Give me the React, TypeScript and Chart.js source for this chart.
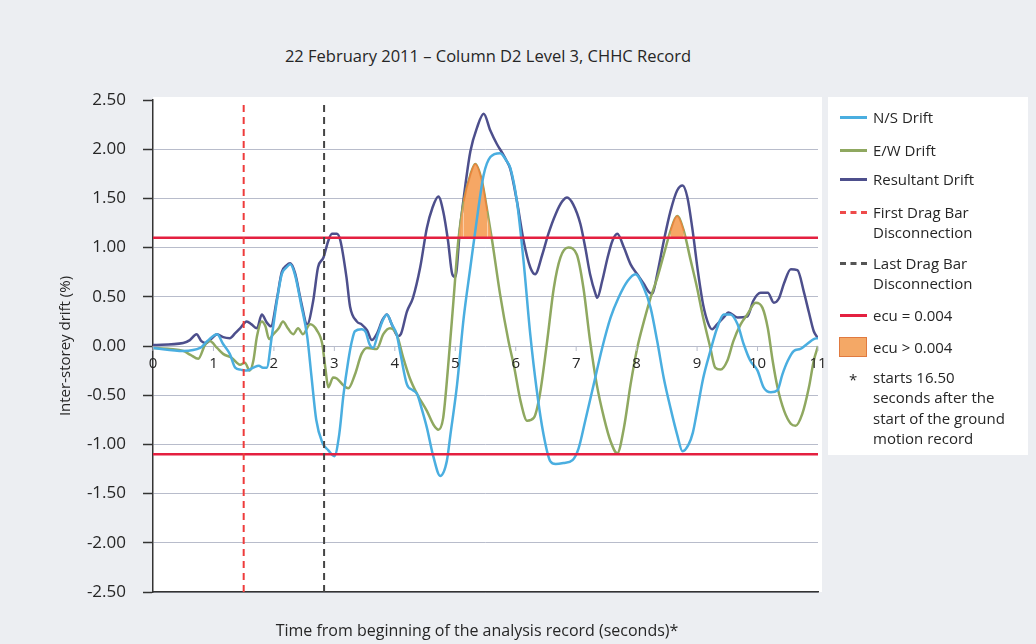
import React, { useEffect, useRef } from 'react';
import { Chart, registerables } from 'chart.js';

Chart.register(...registerables);

// ---- data (time s, drift %) ----
const nsDrift: [number, number][] = [
  [0, -0.02], [0.5, -0.05], [0.78, -0.02], [0.9, 0.05], [1.06, 0.12], [1.16, 0.02], [1.27, -0.08], [1.36, -0.22],
  [1.45, -0.24], [1.55, -0.25], [1.66, -0.22], [1.75, -0.2], [1.82, -0.22], [1.88, -0.22], [1.97, 0.12], [2.05, 0.46],
  [2.13, 0.73], [2.21, 0.8], [2.27, 0.83], [2.35, 0.72], [2.45, 0.42], [2.55, 0.1], [2.62, -0.3], [2.7, -0.75],
  [2.8, -0.98], [2.9, -1.06], [3.0, -1.12], [3.08, -0.9], [3.15, -0.5], [3.23, -0.15], [3.29, 0.05], [3.34, 0.15],
  [3.45, 0.17], [3.52, 0.14], [3.58, 0.02], [3.64, -0.02], [3.72, 0.12], [3.8, 0.26], [3.87, 0.32], [3.95, 0.22],
  [4.03, 0.12], [4.1, -0.1], [4.2, -0.39], [4.3, -0.45], [4.37, -0.49], [4.45, -0.65], [4.53, -0.83], [4.64, -1.13],
  [4.75, -1.32], [4.86, -1.17], [4.92, -0.9], [5.03, -0.39], [5.14, 0.29], [5.25, 0.8], [5.36, 1.3], [5.47, 1.74],
  [5.58, 1.92], [5.74, 1.96], [5.85, 1.88], [5.91, 1.81], [6.02, 1.47], [6.13, 0.86], [6.24, 0.12], [6.35, -0.46],
  [6.46, -0.9], [6.57, -1.17], [6.66, -1.2], [6.79, -1.19], [6.94, -1.16], [7.04, -1.04], [7.15, -0.76], [7.29, -0.39],
  [7.43, -0.02], [7.57, 0.29], [7.7, 0.49], [7.85, 0.66], [7.98, 0.73], [8.12, 0.59], [8.23, 0.39], [8.34, 0.05],
  [8.45, -0.33], [8.56, -0.63], [8.67, -0.9], [8.76, -1.07], [8.86, -1.0], [8.93, -0.88], [9.0, -0.66], [9.1, -0.33],
  [9.22, -0.05], [9.33, 0.18], [9.44, 0.32], [9.55, 0.32], [9.67, 0.22], [9.77, 0.02], [9.88, -0.15], [10.0, -0.25],
  [10.1, -0.42], [10.22, -0.47], [10.33, -0.45], [10.41, -0.29], [10.5, -0.15], [10.6, -0.05], [10.71, -0.03],
  [10.82, 0.02], [10.93, 0.07], [11.0, 0.08],
];

const ewDrift: [number, number][] = [
  [0, -0.02], [0.28, -0.03], [0.5, -0.05], [0.62, -0.09], [0.75, -0.13], [0.86, 0.01], [0.94, 0.05], [1.06, -0.02],
  [1.16, -0.08], [1.3, -0.12], [1.44, -0.19], [1.52, -0.17], [1.6, -0.25], [1.66, -0.15], [1.72, 0.1], [1.8, 0.25],
  [1.86, 0.2], [1.92, 0.07], [1.99, 0.12], [2.08, 0.18], [2.15, 0.25], [2.23, 0.18], [2.32, 0.12], [2.4, 0.18],
  [2.48, 0.12], [2.6, 0.22], [2.71, 0.16], [2.8, 0.02], [2.85, -0.22], [2.9, -0.42], [2.98, -0.32], [3.04, -0.33],
  [3.15, -0.4], [3.23, -0.43], [3.34, -0.29], [3.45, -0.08], [3.54, -0.02], [3.7, -0.03], [3.81, 0.12], [3.92, 0.18],
  [4.03, 0.12], [4.14, -0.12], [4.25, -0.33], [4.37, -0.49], [4.53, -0.66], [4.64, -0.8], [4.72, -0.85], [4.8, -0.73],
  [4.88, -0.22], [4.97, 0.46], [5.05, 1.07], [5.14, 1.47], [5.25, 1.74], [5.33, 1.85], [5.44, 1.68], [5.53, 1.37],
  [5.61, 1.07], [5.74, 0.53], [5.88, 0.05], [5.97, -0.2], [6.08, -0.56], [6.19, -0.76], [6.3, -0.73], [6.4, -0.49],
  [6.52, 0.05], [6.63, 0.59], [6.74, 0.9], [6.87, 1.0], [7.01, 0.93], [7.12, 0.59], [7.23, 0.05], [7.34, -0.39],
  [7.46, -0.73], [7.57, -0.97], [7.68, -1.09], [7.79, -0.83], [7.9, -0.39], [8.01, -0.02], [8.12, 0.25], [8.23, 0.49],
  [8.34, 0.69], [8.45, 0.93], [8.56, 1.17], [8.67, 1.32], [8.78, 1.17], [8.89, 0.88], [9.0, 0.59], [9.1, 0.29],
  [9.22, -0.02], [9.3, -0.22], [9.39, -0.24], [9.5, -0.15], [9.6, 0.05], [9.72, 0.22], [9.83, 0.32], [9.97, 0.44],
  [10.08, 0.39], [10.17, 0.18], [10.25, -0.15], [10.33, -0.42], [10.44, -0.66], [10.55, -0.79], [10.63, -0.81],
  [10.74, -0.69], [10.85, -0.42], [10.93, -0.15], [11.0, 0.0],
];

const resultantDrift: [number, number][] = [
  [0, 0.01], [0.5, 0.03], [0.61, 0.06], [0.72, 0.12], [0.8, 0.05], [0.88, 0.03], [0.96, 0.07], [1.06, 0.12],
  [1.16, 0.09], [1.27, 0.08], [1.36, 0.13], [1.44, 0.18], [1.55, 0.25], [1.63, 0.22], [1.72, 0.18], [1.8, 0.32],
  [1.88, 0.24], [1.95, 0.2], [2.05, 0.48], [2.13, 0.75], [2.21, 0.82], [2.27, 0.84], [2.35, 0.74], [2.45, 0.45],
  [2.55, 0.22], [2.65, 0.46], [2.73, 0.8], [2.82, 0.9], [2.9, 1.07], [2.96, 1.14], [3.04, 1.14], [3.1, 1.07],
  [3.2, 0.7], [3.26, 0.4], [3.37, 0.25], [3.45, 0.22], [3.54, 0.16], [3.62, 0.06], [3.7, 0.12], [3.8, 0.27],
  [3.87, 0.32], [3.95, 0.22], [4.05, 0.1], [4.1, 0.12], [4.2, 0.35], [4.3, 0.49], [4.42, 0.8], [4.53, 1.2],
  [4.62, 1.4], [4.72, 1.52], [4.8, 1.37], [4.88, 1.07], [4.95, 0.73], [5.0, 0.7], [5.08, 1.2], [5.17, 1.65],
  [5.25, 1.98], [5.36, 2.22], [5.47, 2.36], [5.58, 2.19], [5.69, 2.05], [5.78, 1.96], [5.85, 1.88], [5.91, 1.8],
  [6.02, 1.47], [6.13, 1.07], [6.24, 0.8], [6.32, 0.73], [6.44, 0.93], [6.54, 1.14], [6.66, 1.34], [6.77, 1.47],
  [6.85, 1.51], [6.95, 1.44], [7.07, 1.24], [7.15, 1.0], [7.23, 0.73], [7.32, 0.53], [7.35, 0.49], [7.43, 0.66],
  [7.52, 0.9], [7.6, 1.07], [7.68, 1.14], [7.79, 1.0], [7.9, 0.83], [8.01, 0.73], [8.12, 0.63], [8.2, 0.55],
  [8.26, 0.53], [8.34, 0.73], [8.45, 1.07], [8.56, 1.37], [8.67, 1.58], [8.76, 1.63], [8.84, 1.51], [8.92, 1.2],
  [9.02, 0.73], [9.1, 0.42], [9.19, 0.22], [9.25, 0.17], [9.33, 0.22], [9.44, 0.29], [9.52, 0.34], [9.67, 0.29],
  [9.83, 0.3], [9.93, 0.46], [10.05, 0.54], [10.17, 0.54], [10.27, 0.44], [10.35, 0.48], [10.44, 0.64], [10.55, 0.78],
  [10.66, 0.77], [10.77, 0.54], [10.85, 0.34], [10.93, 0.15], [11.0, 0.08],
];

const ecuLimit = 1.1;
const firstDragBarTime = 1.5;
const lastDragBarTime = 2.83;
const timeRange: [number, number] = [0, 11];
const driftRange: [number, number] = [-2.5, 2.5];
const driftStep = 0.5;
const xTickLabels = ['0', '1', '2', '3', '4', '5', '6', '7', '8', '9', '10', '11'];

const legendItems = [
  { label: ['N/S Drift'], kind: 'line', color: '#4aaee0' },
  { label: ['E/W Drift'], kind: 'line', color: '#8fa860' },
  { label: ['Resultant Drift'], kind: 'line', color: '#4d4f8c' },
  { label: ['First Drag Bar', 'Disconnection'], kind: 'dash', color: '#ee4a4a' },
  { label: ['Last Drag Bar', 'Disconnection'], kind: 'dash', color: '#555555' },
  { label: ['ecu = 0.004'], kind: 'line', color: '#e42040' },
  { label: ['ecu > 0.004'], kind: 'box', color: '#f4a866' },
];
const noteLines = ['starts 16.50', 'seconds after the', 'start of the ground', 'motion record'];

const FONT = '"Open Sans", "DejaVu Sans", sans-serif';
const TEXT = '#262626';

const toXY = (a: [number, number][]) => a.map(([x, y]) => ({ x, y }));

export default function App() {
  const ref = useRef<HTMLCanvasElement>(null);

  useEffect(() => {
    if (!ref.current) return;
    Chart.defaults.font.family = FONT;

    const bgPlugin = {
      id: 'plotBg',
      beforeDraw(chart: any) {
        const { ctx, chartArea } = chart;
        ctx.save();
        ctx.fillStyle = '#ffffff';
        ctx.fillRect(chartArea.left, chartArea.top - 3, chartArea.right - chartArea.left + 4, chartArea.bottom - chartArea.top + 3);
        ctx.restore();
      },
    };

    const zeroLabels = {
      id: 'zeroLabels',
      afterDatasetsDraw(chart: any) {
        const { ctx } = chart;
        const xs = chart.scales.x;
        const ys = chart.scales.y;
        const y0 = ys.getPixelForValue(0);
        ctx.save();
        ctx.font = `15px ${FONT}`;
        ctx.fillStyle = TEXT;
        ctx.textAlign = 'center';
        ctx.textBaseline = 'middle';
        xTickLabels.forEach((lab, i) => {
          const px = xs.getPixelForValue(i);
          ctx.strokeStyle = '#b8bccb';
          ctx.lineWidth = 1;
          ctx.beginPath();
          ctx.moveTo(px, y0);
          ctx.lineTo(px, y0 + 5);
          ctx.stroke();
          ctx.fillText(lab, px, y0 + 18);
        });
        ctx.restore();
      },
    };

    const chart = new Chart(ref.current, {
      type: 'line',
      data: {
        datasets: [
          {
            label: 'First Drag Bar Disconnection',
            data: toXY([[firstDragBarTime, driftRange[0]], [firstDragBarTime, driftRange[1]]]),
            borderColor: '#ee3b3b', borderWidth: 2, borderDash: [7, 5], pointRadius: 0, order: 0,
          },
          {
            label: 'Last Drag Bar Disconnection',
            data: toXY([[lastDragBarTime, driftRange[0]], [lastDragBarTime, driftRange[1]]]),
            borderColor: '#444444', borderWidth: 2, borderDash: [7, 5], pointRadius: 0, order: 0,
          },
          {
            label: 'ecu = 0.004',
            data: toXY([[timeRange[0], ecuLimit], [timeRange[1], ecuLimit]]),
            borderColor: '#e42040', borderWidth: 2.5, pointRadius: 0, order: 1,
          },
          {
            label: 'ecu = 0.004 (neg)',
            data: toXY([[timeRange[0], -ecuLimit], [timeRange[1], -ecuLimit]]),
            borderColor: '#e42040', borderWidth: 2.5, pointRadius: 0, order: 1,
          },
          {
            label: 'N/S Drift',
            data: toXY(nsDrift),
            borderColor: '#4aaee0', borderWidth: 2.5, pointRadius: 0, cubicInterpolationMode: 'monotone', order: 2,
          },
          {
            label: 'ecu > 0.004',
            data: toXY(ewDrift),
            borderColor: 'rgba(0,0,0,0)',
            borderWidth: 1.5,
            segment: {
              borderColor: (c: any) => (c.p0.parsed.y > ecuLimit && c.p1.parsed.y > ecuLimit ? '#e8843c' : 'rgba(0,0,0,0)'),
            },
            pointRadius: 0,
            cubicInterpolationMode: 'monotone',
            fill: { target: { value: ecuLimit }, above: 'rgba(245,160,88,0.92)', below: 'rgba(0,0,0,0)' },
            order: 3,
          },
          {
            label: 'E/W Drift',
            data: toXY(ewDrift),
            borderColor: '#8fa860', borderWidth: 2.5, pointRadius: 0, cubicInterpolationMode: 'monotone', order: 4,
          },
          {
            label: 'Resultant Drift',
            data: toXY(resultantDrift),
            borderColor: '#4d4f8c', borderWidth: 2.5, pointRadius: 0, cubicInterpolationMode: 'monotone', order: 5,
          },
        ] as any,
      },
      options: {
        responsive: false,
        animation: false,
        events: [],
        layout: { padding: { left: 0, top: 100, right: 218, bottom: 52 } },
        plugins: { legend: { display: false }, tooltip: { enabled: false }, title: { display: false } },
        scales: {
          x: {
            type: 'linear',
            min: timeRange[0],
            max: timeRange[1],
            grid: { display: false },
            ticks: { display: false },
            border: { display: true, color: '#333333', width: 1.5 },
            afterFit: (s: any) => { s.height = 0; },
          },
          y: {
            type: 'linear',
            min: driftRange[0],
            max: driftRange[1],
            ticks: {
              stepSize: driftStep,
              callback: (v: any) => Number(v).toFixed(2),
              font: { size: 17 },
              color: TEXT,
              padding: 17,
            },
            grid: {
              color: (c: any) => (c.tick && c.tick.value === driftRange[1] ? 'rgba(0,0,0,0)' : '#b8bccb'),
              lineWidth: 1,
              tickLength: 10,
              tickColor: '#333333',
              tickWidth: 1.5,
            },
            border: { display: true, color: '#333333', width: 1.5 },
            title: {
              display: true,
              text: 'Inter-storey drift (%)',
              font: { size: 15 },
              color: TEXT,
              padding: { top: 57, bottom: 0 },
            },
            afterFit: (s: any) => { s.width = 153; },
          },
        },
      },
      plugins: [bgPlugin, zeroLabels],
    } as any);

    return () => chart.destroy();
  }, []);

  const legendTops = [117, 150, 179, 212, 263, 315, 347];

  return (
    <div style={{ position: 'fixed', left: 0, top: 0, width: 1036, height: 644, background: '#eceef2', overflow: 'hidden', fontFamily: FONT, color: TEXT }}>
      <div style={{ position: 'absolute', left: 488, top: 44, transform: 'translateX(-50%)', whiteSpace: 'nowrap', fontSize: 16.5 }}>
        22 February 2011 – Column D2 Level 3, CHHC Record
      </div>
      <div style={{ position: 'absolute', left: 828, top: 97, width: 200, height: 358, background: '#ffffff' }} />
      <canvas ref={ref} width={1036} height={644} style={{ position: 'absolute', left: 0, top: 0, width: 1036, height: 644 }} />
      {legendItems.map((it, i) => {
        const cy = legendTops[i];
        let marker: React.ReactNode;
        if (it.kind === 'line') {
          marker = <div style={{ position: 'absolute', left: 840, top: cy - 1.5, width: 27, height: 3, background: it.color }} />;
        } else if (it.kind === 'dash') {
          marker = <div style={{ position: 'absolute', left: 840, top: cy - 1.5, width: 27, height: 0, borderTop: `3px dashed ${it.color}` }} />;
        } else {
          marker = <div style={{ position: 'absolute', left: 839, top: cy - 10, width: 26, height: 18, background: it.color, border: '1.5px solid #e07a40' }} />;
        }
        return (
          <React.Fragment key={i}>
            {marker}
            {it.label.map((l, j) => (
              <div key={j} style={{ position: 'absolute', left: 873, top: cy - 11 + j * 20, fontSize: 15, lineHeight: '22px', whiteSpace: 'nowrap' }}>{l}</div>
            ))}
          </React.Fragment>
        );
      })}
      <div style={{ position: 'absolute', left: 849, top: 368, fontSize: 15, lineHeight: '22px' }}>*</div>
      {noteLines.map((l, j) => (
        <div key={j} style={{ position: 'absolute', left: 873, top: 366 + j * 20.3, fontSize: 15, lineHeight: '22px', whiteSpace: 'nowrap' }}>{l}</div>
      ))}
      <div style={{ position: 'absolute', left: 477, top: 619, transform: 'translateX(-50%)', whiteSpace: 'nowrap', fontSize: 16 }}>
        Time from beginning of the analysis record (seconds)*
      </div>
    </div>
  );
}
